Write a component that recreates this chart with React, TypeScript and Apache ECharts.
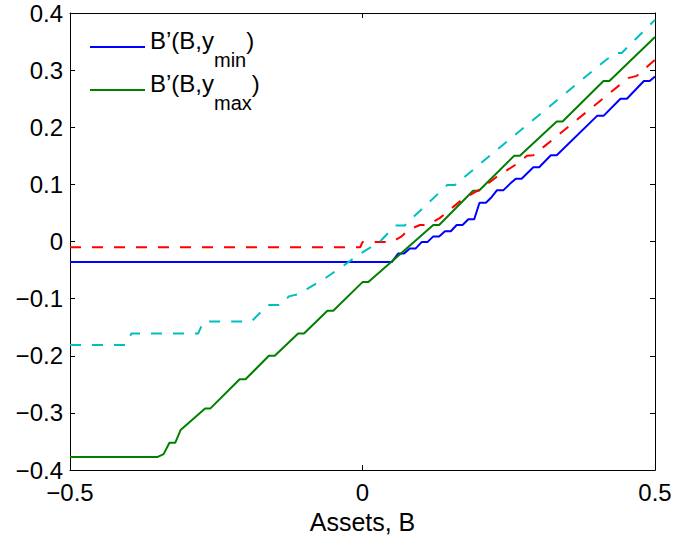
import React, { useEffect, useRef } from "react";
import * as echarts from "echarts";

// B'(B, y_min)  — solid blue
const bluePts: [number, number][] = [
  [-0.5, -0.036], [0.05, -0.036], [0.061, -0.021], [0.071, -0.021], [0.081, -0.012],
  [0.091, -0.012], [0.101, -0.001], [0.111, -0.001], [0.121, 0.009], [0.131, 0.009],
  [0.141, 0.018], [0.151, 0.018], [0.161, 0.029], [0.171, 0.029], [0.181, 0.039],
  [0.191, 0.039], [0.2, 0.068], [0.211, 0.068], [0.221, 0.078], [0.23, 0.09],
  [0.241, 0.09], [0.252, 0.101], [0.262, 0.11], [0.272, 0.11], [0.292, 0.13],
  [0.302, 0.13], [0.322, 0.151], [0.332, 0.151], [0.401, 0.22], [0.412, 0.22],
  [0.441, 0.25], [0.452, 0.25], [0.481, 0.281], [0.491, 0.281], [0.5, 0.289],
];

// B'(B, y_max) — solid green
const greenPts: [number, number][] = [
  [-0.5, -0.377], [-0.35, -0.377], [-0.34, -0.372], [-0.33, -0.352], [-0.32, -0.352],
  [-0.311, -0.33], [-0.269, -0.292], [-0.26, -0.292], [-0.21, -0.241], [-0.2, -0.241],
  [-0.16, -0.2], [-0.15, -0.2], [-0.11, -0.161], [-0.1, -0.161], [-0.06, -0.121],
  [-0.05, -0.121], [0.0, -0.071], [0.01, -0.071], [0.121, 0.029], [0.131, 0.029],
  [0.189, 0.089], [0.199, 0.089], [0.259, 0.15], [0.269, 0.15], [0.332, 0.21],
  [0.342, 0.21], [0.412, 0.281], [0.422, 0.281], [0.5, 0.358],
];

// dashed red
const redPts: [number, number][] = [
  [-0.5, -0.01], [-0.004, -0.01], [0.0, -0.001], [0.05, -0.001], [0.067, 0.009],
  [0.078, 0.02], [0.098, 0.029], [0.111, 0.029], [0.132, 0.041], [0.172, 0.075],
  [0.204, 0.093], [0.229, 0.113], [0.264, 0.136], [0.281, 0.15], [0.292, 0.151],
  [0.454, 0.286], [0.469, 0.29], [0.5, 0.318],
];

// dashed cyan
const cyanPts: [number, number][] = [
  [-0.5, -0.181], [-0.405, -0.181], [-0.395, -0.161], [-0.281, -0.161], [-0.272, -0.14],
  [-0.19, -0.14], [-0.162, -0.111], [-0.138, -0.111], [-0.126, -0.096], [-0.11, -0.092],
  [-0.093, -0.082], [-0.062, -0.063], [-0.031, -0.041], [-0.002, -0.02], [0.03, 0.0],
  [0.041, 0.012], [0.056, 0.028], [0.072, 0.028], [0.087, 0.043], [0.145, 0.099],
  [0.158, 0.099], [0.215, 0.148], [0.414, 0.316], [0.432, 0.33], [0.443, 0.33],
  [0.5, 0.388],
];

const xRange = [-0.5, 0.5];
const yRange = [-0.4, 0.4];
const xStep = 0.5;
const yStep = 0.1;
const xName = "Assets, B";
const blueName = "B’(B,ymin)";
const greenName = "B’(B,ymax)";

const FONT = "'Liberation Sans', Arial, Helvetica, sans-serif";

export default function App() {
  const ref = useRef<HTMLDivElement>(null);
  useEffect(() => {
    const chart = echarts.init(ref.current!, null, { renderer: "svg" });
    const fmt = (v: number) => {
      const r = Math.round(v * 10) / 10;
      if (r === 0) return "0";
      return (r < 0 ? "\u2212" : "") + Math.abs(r).toFixed(1);
    };
    const axisLine = { show: true, onZero: false, lineStyle: { color: "#000", width: 1 } };
    const tick = { show: true, inside: true, length: 5, lineStyle: { color: "#000", width: 1 } };
    const label = { color: "#000", fontSize: 24, fontFamily: FONT, formatter: fmt };
    const rich = {
      n: { fontSize: 24, fontFamily: FONT, color: "#000", padding: [0, 0, 14, 0] },
      s: { fontSize: 20, fontFamily: FONT, color: "#000", padding: [25, 0, 0, 0] },
    };
    const legendBase = {
      orient: "vertical",
      left: 90,
      padding: 0,
      icon: "rect",
      itemWidth: 55,
      itemHeight: 2,
      selectedMode: false,
      textStyle: { rich },
    };
    chart.setOption({
      animation: false,
      backgroundColor: "#fff",
      grid: { left: 70, right: 20, top: 13, bottom: 65, containLabel: false },
      xAxis: [
        {
          type: "value", min: xRange[0], max: xRange[1], interval: xStep, position: "bottom",
          axisLine, axisTick: tick, axisLabel: { ...label, margin: 10 }, splitLine: { show: false },
          name: xName, nameLocation: "middle", nameGap: 35,
          nameTextStyle: { color: "#000", fontSize: 25, fontFamily: FONT },
        },
        {
          type: "value", min: xRange[0], max: xRange[1], interval: xStep, position: "top",
          axisLine, axisTick: tick, axisLabel: { show: false }, splitLine: { show: false },
        },
      ],
      yAxis: [
        {
          type: "value", min: yRange[0], max: yRange[1], interval: yStep, position: "left",
          axisLine, axisTick: tick, axisLabel: { ...label, margin: 7 }, splitLine: { show: false },
        },
        {
          type: "value", min: yRange[0], max: yRange[1], interval: yStep, position: "right",
          axisLine, axisTick: tick, axisLabel: { show: false }, splitLine: { show: false },
        },
      ],
      legend: [
        { ...legendBase, top: 28, data: [blueName], formatter: () => "{n|B’(B,y}{s|min}{n|)}" },
        { ...legendBase, top: 71, data: [greenName], formatter: () => "{n|B’(B,y}{s|max}{n|)}" },
      ],
      series: [
        {
          name: blueName, type: "line", data: bluePts, symbol: "none", showSymbol: false,
          color: "#0000ff", lineStyle: { color: "#0000ff", width: 2 },
        },
        {
          name: greenName, type: "line", data: greenPts, symbol: "none", showSymbol: false,
          color: "#008000", lineStyle: { color: "#008000", width: 2 },
        },
        {
          name: "red", type: "line", data: redPts, symbol: "none", showSymbol: false,
          color: "#ff0000", lineStyle: { color: "#ff0000", width: 2, type: [11, 11] },
        },
        {
          name: "cyan", type: "line", data: cyanPts, symbol: "none", showSymbol: false,
          color: "#00bfbf", lineStyle: { color: "#00bfbf", width: 2, type: [11, 11] },
        },
      ],
    });
    return () => chart.dispose();
  }, []);
  return (
    <div
      ref={ref}
      style={{ position: "absolute", left: 0, top: 0, width: 675, height: 539, background: "#fff" }}
    />
  );
}
